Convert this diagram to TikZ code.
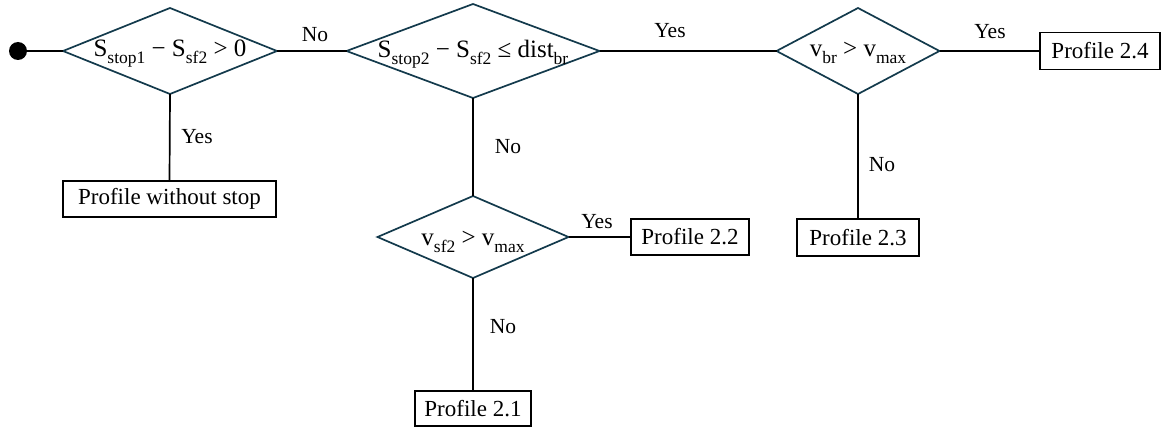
\documentclass[tikz,border=0pt]{standalone}
\usepackage{fontspec}
\setmainfont{Liberation Serif}
\usetikzlibrary{shapes.geometric}
\definecolor{decline}{HTML}{133A4C}
% lowered, smaller subscript in the text font
\newcommand\lsub[1]{\raisebox{-0.28em}{\fontsize{17.5}{17.5}\selectfont #1}}
% condition text, centred and set on a baseline a little below the centre
\newcommand\cond[2][7pt]{\smash{\makebox[0pt]{\raisebox{-#1}{#2}}}}
\begin{document}
\begin{tikzpicture}[x=1pt,y=-1pt,
  conn/.style={draw=black,line width=1.7pt},
  decision/.style={diamond,draw=decline,line width=1.7pt,inner sep=0pt,outer sep=0pt,fill=white,
    font=\fontsize{25}{27}\selectfont},
  profbox/.style={rectangle,draw=black,line width=1.7pt,inner sep=0pt,outer sep=0pt,fill=white,
    font=\fontsize{23}{25}\selectfont},
  lbl/.style={inner sep=0pt,anchor=center,font=\fontsize{21.5}{23}\selectfont}]
\useasboundingbox (0,0) rectangle (1167,428);

% start point
\node[circle,fill=black,inner sep=0pt,minimum size=18pt] (start) at (18,51) {};

% decisions
\node[decision,minimum width=214,minimum height=86] (d1) at (170,51)
  {\cond[6pt]{S\lsub{stop1} − S\lsub{sf2} > 0}};
\node[decision,minimum width=253,minimum height=94] (d2) at (473,51)
  {\cond{S\lsub{stop2} − S\lsub{sf2} ≤ dist\lsub{br}}};
\node[decision,minimum width=163,minimum height=86] (d3) at (858,51)
  {\cond[6pt]{v\lsub{br} > v\lsub{max}}};
\node[decision,minimum width=191,minimum height=82] (d4) at (473,237)
  {\cond[8pt]{v\lsub{sf2} > v\lsub{max}}};

% outcomes
\node[profbox,minimum width=213,minimum height=36] (pws) at (169.5,199) {Profile without stop};
\node[profbox,minimum width=116,minimum height=35] (p21) at (473,408.5) {Profile 2.1};
\node[profbox,minimum width=118,minimum height=36] (p22) at (690,237) {Profile 2.2};
\node[profbox,minimum width=122,minimum height=37] (p23) at (858,237.5) {Profile 2.3};
\node[profbox,minimum width=120,minimum height=37] (p24) at (1100,51) {Profile 2.4};

% connectors
\draw[conn] (start) -- (d1.west);
\draw[conn] (d1.east) -- (d2.west);
\draw[conn] (d1.south) -- (pws.north);
\draw[conn] (d2.east) -- (d3.west);
\draw[conn] (d2.south) -- (d4.north);
\draw[conn] (d3.east) -- (p24.west);
\draw[conn] (d3.south) -- (p23.north);
\draw[conn] (d4.east) -- (p22.west);
\draw[conn] (d4.south) -- (p21.north);

% branch labels
\node[lbl] (l1) at (315,35) {No};
\node[lbl] (l2) at (197,137) {Yes};
\node[lbl] (l3) at (508,147) {No};
\node[lbl] (l4) at (670,31) {Yes};
\node[lbl] (l5) at (990,32) {Yes};
\node[lbl] (l6) at (882,165) {No};
\node[lbl] (l7) at (597,222) {Yes};
\node[lbl] (l8) at (503,327) {No};
\end{tikzpicture}
\end{document}
